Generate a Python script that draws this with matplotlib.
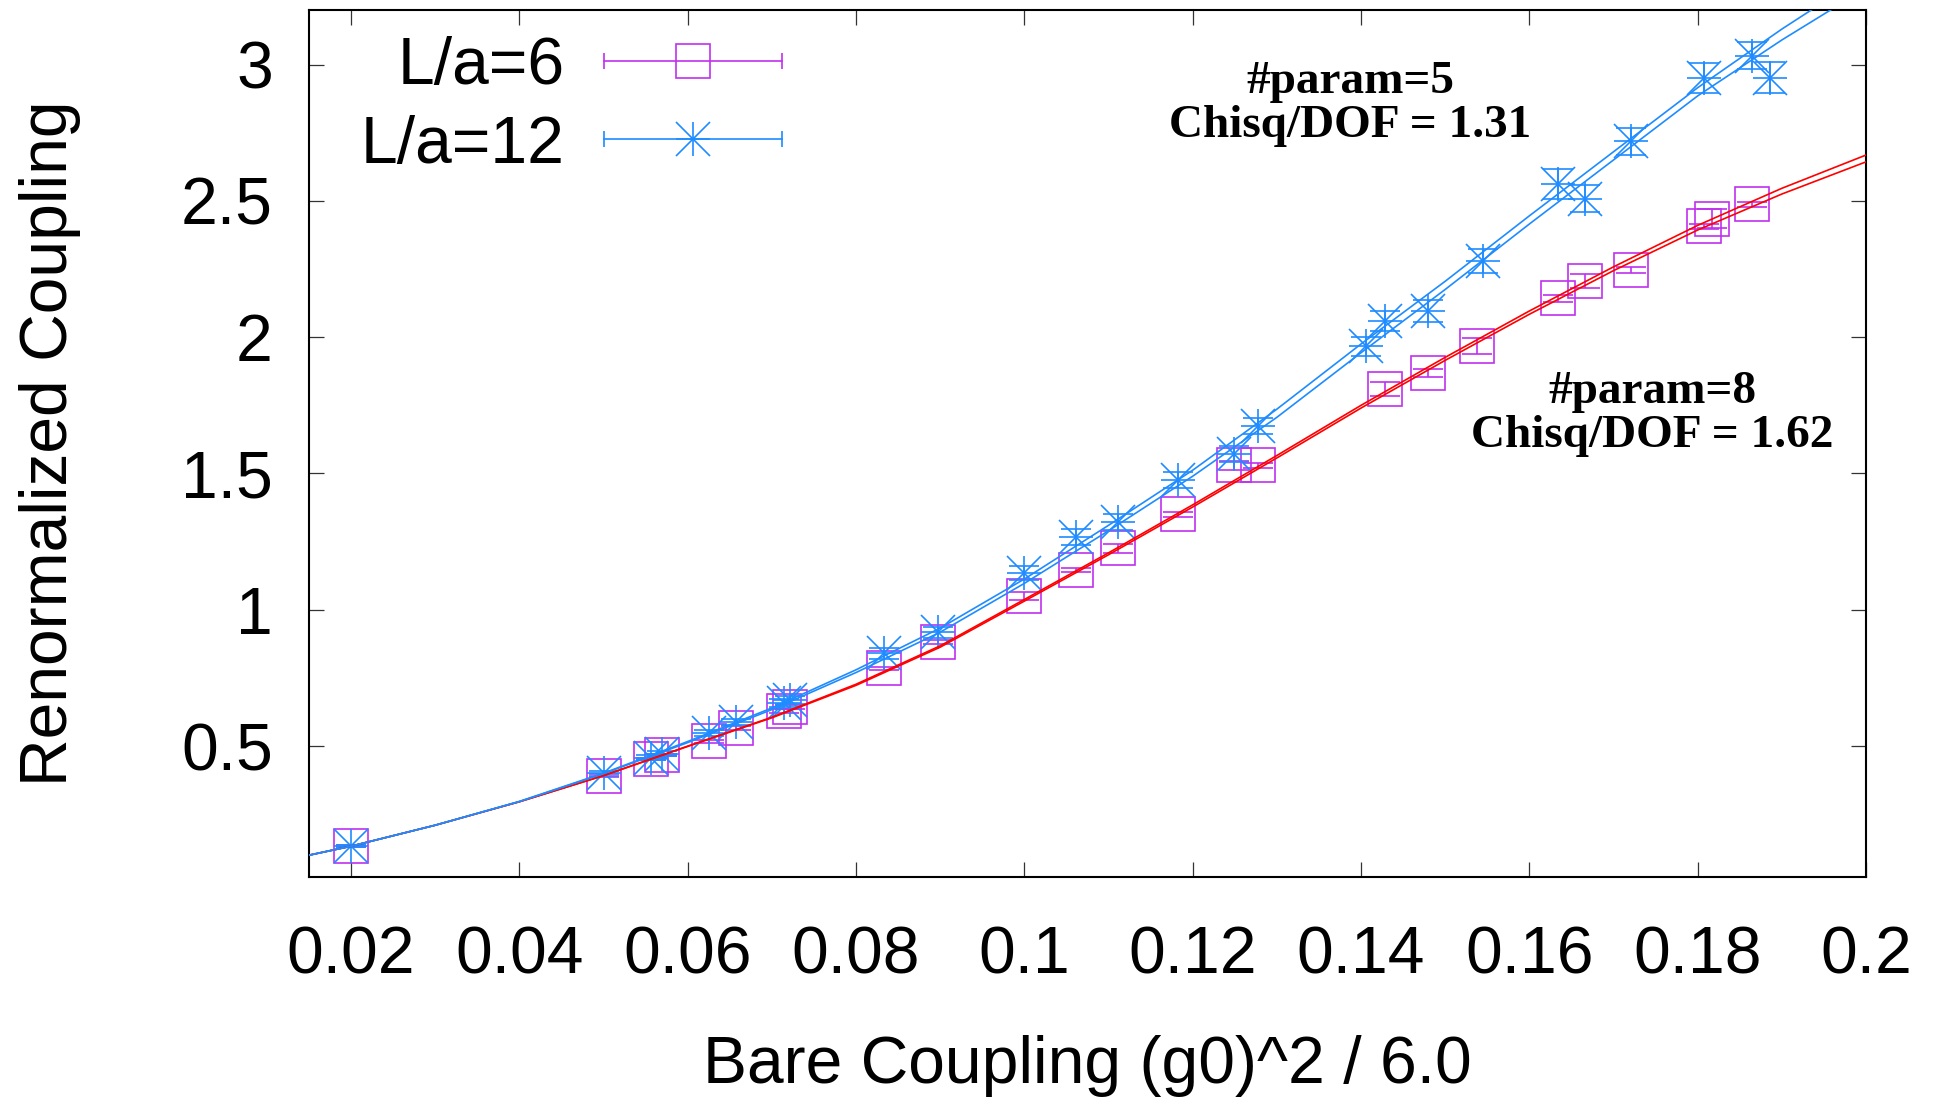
import numpy as np
import matplotlib
matplotlib.use("Agg")
import matplotlib.pyplot as plt
from matplotlib.lines import Line2D
from matplotlib.legend_handler import HandlerBase

# ---------------- data ----------------
x_L6 = [0.02, 0.05, 0.0556, 0.057, 0.0625, 0.0657, 0.0714, 0.0722, 0.0833, 0.0897,
        0.1, 0.1061, 0.1111, 0.1183, 0.1249, 0.1278, 0.1428, 0.1479, 0.1538,
        0.1634, 0.1666, 0.1721, 0.1807, 0.1817, 0.1865]
y_L6 = [0.134, 0.392, 0.453, 0.467, 0.518, 0.567, 0.629, 0.644, 0.785, 0.882,
        1.051, 1.146, 1.225, 1.350, 1.530, 1.530, 1.811, 1.869, 1.969,
        2.142, 2.207, 2.247, 2.406, 2.434, 2.487]
e_L6 = [0.003, 0.004, 0.005, 0.005, 0.006, 0.006, 0.007, 0.007, 0.007, 0.006,
        0.015, 0.006, 0.016, 0.008, 0.017, 0.009, 0.026, 0.014, 0.029,
        0.012, 0.026, 0.012, 0.008, 0.035, 0.010]

x_L12 = [0.02, 0.05, 0.0556, 0.057, 0.0625, 0.0657, 0.0714, 0.0722, 0.0833, 0.0897,
         0.1, 0.1061, 0.1111, 0.1183, 0.1249, 0.1278, 0.1406, 0.1428, 0.1479, 0.1545,
         0.1634, 0.1666, 0.1721, 0.1807, 0.1865, 0.1886]
y_L12 = [0.134, 0.400, 0.458, 0.472, 0.549, 0.589, 0.658, 0.670, 0.841, 0.918,
         1.136, 1.266, 1.321, 1.475, 1.571, 1.674, 1.966, 2.058, 2.095, 2.280,
         2.563, 2.508, 2.719, 2.951, 3.033, 2.951]
e_L12 = [0.005, 0.010, 0.010, 0.010, 0.012, 0.012, 0.015, 0.015, 0.020, 0.020,
         0.025, 0.030, 0.030, 0.030, 0.030, 0.030, 0.035, 0.037, 0.040, 0.045,
         0.055, 0.050, 0.050, 0.055, 0.050, 0.057]

# fit curves (upper / lower band)
fit_x = [0.015, 0.02, 0.03, 0.04, 0.05, 0.06, 0.07, 0.08, 0.09, 0.1,
         0.11, 0.12, 0.13, 0.14, 0.15, 0.16, 0.17, 0.18, 0.19, 0.2]
fit6_hi = [0.100, 0.133, 0.210, 0.296, 0.392, 0.500, 0.606, 0.727, 0.868, 1.038,
           1.209, 1.385, 1.566, 1.750, 1.926, 2.096, 2.258, 2.410, 2.546, 2.668]
fit6_lo = [0.100, 0.133, 0.210, 0.296, 0.392, 0.499, 0.604, 0.723, 0.863, 1.032,
           1.202, 1.377, 1.557, 1.740, 1.915, 2.084, 2.244, 2.393, 2.525, 2.643]
fit12_hi = [0.100, 0.133, 0.210, 0.297, 0.401, 0.517, 0.640, 0.780, 0.933, 1.113,
            1.310, 1.512, 1.736, 1.975, 2.205, 2.445, 2.680, 2.915, 3.130, 3.330]
fit12_lo = [0.100, 0.133, 0.210, 0.297, 0.399, 0.513, 0.634, 0.770, 0.918, 1.097,
            1.290, 1.490, 1.706, 1.943, 2.175, 2.415, 2.650, 2.885, 3.090, 3.280]

labels = ["L/a=6", "L/a=12"]
xticks = [0.02, 0.04, 0.06, 0.08, 0.1, 0.12, 0.14, 0.16, 0.18, 0.2]
xticklabels = ["0.02", "0.04", "0.06", "0.08", "0.1", "0.12", "0.14", "0.16", "0.18", "0.2"]
yticks = [0.5, 1.0, 1.5, 2.0, 2.5, 3.0]
yticklabels = ["0.5", "1", "1.5", "2", "2.5", "3"]
notes = ["#param=5\nChisq/DOF = 1.31", "#param=8\nChisq/DOF = 1.62"]

# ---------------- style ----------------
plt.rcParams['font.family'] = ['Liberation Sans', 'DejaVu Sans']
C6 = "#c030ef"
C12 = "#1e8cff"
CRED = "#ff0000"
FS = 47.5
MS = 24
MLW = 1.2
CAP = 11

fig = plt.figure(figsize=(19.44, 11.01), dpi=100)
ax = fig.add_axes([309 / 1944, 1 - 877 / 1101, 1557 / 1944, 867 / 1101])

# L/a=6 data
ax.errorbar(x_L6, y_L6, yerr=e_L6, fmt='none', ecolor=C6, elinewidth=MLW,
            capsize=CAP, capthick=MLW, zorder=3)
ax.plot(x_L6, y_L6, ls='none', marker='s', ms=MS, mfc='none', mec=C6, mew=MLW, zorder=3)

# L/a=12 data
ax.errorbar(x_L12, y_L12, yerr=e_L12, fmt='none', ecolor=C12, elinewidth=MLW,
            capsize=CAP, capthick=MLW, zorder=4)
ax.plot(x_L12, y_L12, ls='none', marker='+', ms=MS, mec=C12, mew=MLW, zorder=4)
ax.plot(x_L12, y_L12, ls='none', marker='x', ms=MS, mec=C12, mew=MLW, zorder=4)

# fit lines
ax.plot(fit_x, fit6_hi, color=CRED, lw=1.2, zorder=5)
ax.plot(fit_x, fit6_lo, color=CRED, lw=1.2, zorder=5)
ax.plot(fit_x, fit12_hi, color=C12, lw=1.2, zorder=6)
ax.plot(fit_x, fit12_lo, color=C12, lw=1.2, zorder=6)

ax.set_xlim(0.015, 0.2)
ax.set_ylim(0.02, 3.2)
ax.set_xticks(xticks)
ax.set_xticklabels(xticklabels)
ax.set_yticks(yticks)
ax.set_yticklabels(yticklabels)
ax.tick_params(direction='in', length=11, width=0.9, color='#333333',
               labelsize=FS, top=True, right=True)
ax.tick_params(axis='x', pad=35)
ax.tick_params(axis='y', pad=26)
for s in ax.spines.values():
    s.set_linewidth(1.5)

ax.set_xlabel("Bare Coupling (g0)^2 / 6.0", fontsize=FS, labelpad=34)
ax.set_ylabel("Renormalized Coupling", fontsize=FS, labelpad=72)

ax.text(0.6686, 0.8916, notes[0], transform=ax.transAxes, ha='center', va='center',
        multialignment='center', fontsize=34, fontweight='bold',
        family=['Liberation Serif'], linespacing=1.05)
ax.text(0.8626, 0.534, notes[1], transform=ax.transAxes, ha='center', va='center',
        multialignment='center', fontsize=34, fontweight='bold',
        family=['Liberation Serif'], linespacing=1.05)


class ErrKeyHandler(HandlerBase):
    def __init__(self, color, markers):
        super().__init__()
        self.color = color
        self.markers = markers

    def create_artists(self, legend, orig_handle, xdescent, ydescent, width, height,
                       fontsize, trans):
        x0 = -xdescent
        x1 = -xdescent + width
        y = (height - ydescent) / 2
        arts = [Line2D([x0, x1], [y, y], color=self.color, lw=MLW),
                Line2D([x0, x1], [y, y], ls='none', marker='|', ms=CAP,
                       mew=MLW, color=self.color)]
        for m in self.markers:
            arts.append(Line2D([(x0 + x1) / 2], [y], ls='none', marker=m, ms=MS,
                               mfc='none', mec=self.color, mew=MLW))
        for a in arts:
            a.set_transform(trans)
        return arts


h6 = Line2D([], [], color=C6)
h12 = Line2D([], [], color=C12)
leg = ax.legend([h6, h12], labels, loc='upper left', bbox_to_anchor=(0.033, 0.97),
                frameon=False, fontsize=FS, markerfirst=False, handlelength=2.7,
                handletextpad=0.6, labelspacing=0.25, borderpad=0, borderaxespad=0,
                handler_map={h6: ErrKeyHandler(C6, ['s']),
                             h12: ErrKeyHandler(C12, ['+', 'x'])})

fig.savefig("out.png", dpi=100)
